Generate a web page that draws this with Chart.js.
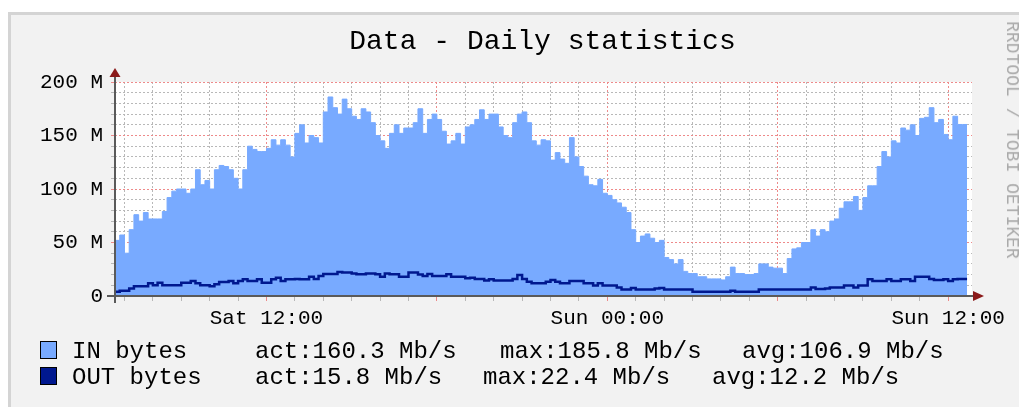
<!DOCTYPE html>
<html>
<head>
<meta charset="utf-8">
<script src="https://cdn.jsdelivr.net/npm/chart.js@4.4.1/dist/chart.umd.min.js"></script>
<style>
    html, body { margin: 0; padding: 0; background: #ffffff; }
    #wrap { position: relative; width: 1019px; height: 407px; overflow: hidden; }
    #frame {
        position: absolute; left: 8px; top: 12px; right: 0; bottom: 0;
        background: #f2f2f2;
        border-left: 3px solid #d4d4d4;
        border-top: 3px solid #d4d4d4;
    }
    #chart { position: absolute; left: 0; top: 0; }
    .txt {
        position: absolute; font-family: 'Liberation Mono', 'DejaVu Sans Mono', monospace;
        color: #000; white-space: pre;
    }
    #title { left: 0; width: 1085px; top: 28px; font-size: 28px; line-height: 28px; text-align: center; }
    .leg { font-size: 24px; line-height: 24px; }
    .box { position: absolute; width: 15px; height: 16px; border: 1px solid #000; }
    #credit {
        left: 1012px; top: 140px; font-size: 18px; line-height: 18px; color: #aaaaaa;
        transform: translate(-50%, -50%) rotate(90deg);
    }
</style>
</head>
<body>
<div id="wrap">
    <div id="frame"></div>
    <canvas id="chart" width="1019" height="407"></canvas>
    <div class="txt" id="title">Data - Daily statistics</div>
    <div class="txt" id="credit">RRDTOOL / TOBI OETIKER</div>
    <div id="legend"></div>
</div>
<script>
// ============ Data ============

// 10 minute samples starting Sat 06:40 (hours counted from Sat 00:00)
const START_HOUR = 6 + 40 / 60;
const STEP_HOURS = 1 / 6;
const END_HOUR = 36.84;

// IN bytes, M per sample
const IN_BYTES = [
    40, 52, 57, 40, 62, 76, 70, 78, 72, 72, 72, 79, 92, 98, 100, 100, 96, 100, 118, 104, 108, 100, 118, 122, 121, 118, 110, 100, 118, 140,
    137, 135, 135, 138, 146, 141, 146, 141, 130, 152, 160, 143, 150, 148, 143, 172, 186, 176, 170, 184, 175, 168, 165, 175, 172, 162, 150, 145, 138, 152,
    160, 152, 157, 157, 162, 175, 152, 165, 170, 165, 154, 142, 145, 152, 142, 158, 160, 165, 174, 165, 170, 170, 158, 150, 148, 162, 170, 172, 162, 145,
    141, 146, 145, 127, 134, 128, 124, 148, 130, 121, 112, 104, 103, 109, 96, 94, 90, 87, 83, 78, 62, 50, 56, 58, 54, 50, 52, 36, 34, 30, 34,
    23, 21, 21, 18, 18, 16, 16, 16, 15, 18, 27, 21, 21, 20, 20, 21, 30, 30, 27, 26, 26, 21, 35, 44, 45, 50, 50, 62, 56, 62,
    60, 70, 72, 82, 88, 88, 93, 80, 92, 103, 103, 121, 135, 130, 145, 143, 157, 155, 160, 150, 166, 167, 176, 162, 165, 151, 146, 168, 160.3
];

// OUT bytes, M per sample
const OUT_BYTES = [
    4, 4, 5, 5, 7, 9, 9, 9, 12, 10, 12.5, 10, 10, 10, 10, 12.5, 12.5, 14, 12, 10, 10, 9, 11, 13, 13, 14, 12, 14, 15.6, 14,
    14, 15.6, 12.5, 12.5, 15.6, 17, 14, 15.6, 15.6, 16, 15.6, 15.6, 18, 16, 18.7, 20.6, 20.6, 20.6, 22.4, 22, 22, 21, 20.3, 20.3, 21, 21, 20.3, 18, 21, 20.3,
    20.3, 18, 18, 22, 22, 20, 18.7, 20.6, 18.7, 18.7, 18.7, 20.3, 18, 18, 18, 16.5, 17, 16, 16, 14.4, 15.6, 14.4, 14.4, 14.4, 14.4, 16, 19.7, 16, 13.4, 12,
    12, 12, 13.4, 15, 13.4, 12, 12, 14, 14, 14, 12, 12, 9.7, 12, 9.7, 9.7, 9.7, 8, 6, 6, 7.5, 6, 6, 6, 6, 7, 7.5, 6, 6, 6, 6,
    6, 6, 4, 4, 4, 4, 4, 4, 4, 4, 5, 4, 4, 4, 4, 4, 6, 6, 6, 6, 6, 6, 6, 6, 6, 6, 6, 8, 6.5, 6.5,
    7, 8, 8, 8, 9.7, 9.7, 8, 9.7, 9.7, 15.6, 14, 14, 14, 15.6, 14, 14, 15.6, 15.6, 14, 18, 18, 18, 16, 15, 15, 15.6, 14, 15.6, 15.8
];

const Y_TICK_VALUES = [0, 50, 100, 150, 200];
const Y_TICK_LABELS = ['0', '50 M', '100 M', '150 M', '200 M'];
const X_TICK_HOURS = [12, 24, 36];
const X_TICK_LABELS = ['Sat 12:00', 'Sun 00:00', 'Sun 12:00'];

const LEGEND_ROWS = [
    { name: 'IN bytes', color: '#78aaff', act: 'act:160.3 Mb/s', max: 'max:185.8 Mb/s', avg: 'avg:106.9 Mb/s', maxX: 500, avgX: 742 },
    { name: 'OUT bytes', color: '#00188f', act: 'act:15.8 Mb/s', max: 'max:22.4 Mb/s', avg: 'avg:12.2 Mb/s', maxX: 483, avgX: 712 }
];

// ============ Helpers ============

const FONT = 'Liberation Mono';
const RED_GRID = '#ee8a8a';
const GRAY_GRID = '#b8b8b8';

function toPoints(values) {
    const pts = values.map((v, i) => ({ x: START_HOUR + i * STEP_HOURS, y: v }));
    // close the last step
    pts.push({ x: START_HOUR + values.length * STEP_HOURS, y: values[values.length - 1] });
    return pts;
}

// one tick per whole hour / per 10 M
function hourTicks(scale) {
    const ticks = [];
    for (let h = Math.ceil(scale.min); h <= Math.floor(scale.max); h++) ticks.push({ value: h });
    scale.ticks = ticks;
}

function tenMTicks(scale) {
    const ticks = [];
    for (let v = 0; v <= 200; v += 10) ticks.push({ value: v });
    scale.ticks = ticks;
}

// ============ Legend ============

function renderLegend() {
    const el = document.getElementById('legend');
    el.innerHTML = LEGEND_ROWS.map((r, i) => {
        const top = 340 + i * 26;
        return `
        <div class="box" style="left:40px; top:${top + 1}px; background:${r.color}"></div>
        <div class="txt leg" style="left:72px; top:${top}px">${r.name}</div>
        <div class="txt leg" style="left:255px; top:${top}px">${r.act}</div>
        <div class="txt leg" style="left:${r.maxX}px; top:${top}px">${r.max}</div>
        <div class="txt leg" style="left:${r.avgX}px; top:${top}px">${r.avg}</div>`;
    }).join('');
}

// ============ Chart ============

const plotBackground = {
    id: 'plotBackground',
    beforeDraw(chart) {
        const { ctx, chartArea: a } = chart;
        ctx.save();
        ctx.fillStyle = '#ffffff';
        ctx.fillRect(a.left, a.top, a.right - a.left, a.bottom - a.top);
        ctx.restore();
    }
};

const axisArrows = {
    id: 'axisArrows',
    afterDraw(chart) {
        const { ctx, chartArea: a } = chart;
        const x0 = Math.round(chart.scales.x.getPixelForValue(START_HOUR));
        const y0 = Math.round(chart.scales.y.getPixelForValue(0));
        ctx.save();
        ctx.strokeStyle = '#5a5a5a';
        ctx.lineWidth = 2;
        ctx.beginPath();
        ctx.moveTo(x0, y0 + 7);
        ctx.lineTo(x0, a.top - 10);
        ctx.moveTo(x0 - 8, y0);
        ctx.lineTo(a.right + 2, y0);
        ctx.stroke();

        ctx.fillStyle = '#8b1a1a';
        ctx.beginPath();
        ctx.moveTo(x0 - 5.5, a.top - 5);
        ctx.lineTo(x0 + 5.5, a.top - 5);
        ctx.lineTo(x0, a.top - 14);
        ctx.closePath();
        ctx.fill();
        ctx.beginPath();
        ctx.moveTo(a.right + 1, y0 - 5);
        ctx.lineTo(a.right + 1, y0 + 5);
        ctx.lineTo(a.right + 12, y0);
        ctx.closePath();
        ctx.fill();
        ctx.restore();
    }
};

function renderChart() {
    const ctx = document.getElementById('chart').getContext('2d');
    new Chart(ctx, {
        type: 'line',
        data: {
            datasets: [
                {
                    label: 'IN bytes',
                    data: toPoints(IN_BYTES),
                    stepped: 'after',
                    fill: 'origin',
                    backgroundColor: '#78aaff',
                    borderColor: '#78aaff',
                    borderWidth: 1,
                    pointRadius: 0,
                    order: 2
                },
                {
                    label: 'OUT bytes',
                    data: toPoints(OUT_BYTES),
                    stepped: 'after',
                    fill: false,
                    borderColor: '#00188f',
                    borderWidth: 2.5,
                    pointRadius: 0,
                    order: 1
                }
            ]
        },
        options: {
            responsive: false,
            animation: false,
            devicePixelRatio: 1,
            layout: { padding: { left: 0, top: 82, right: 47, bottom: 0 } },
            plugins: {
                legend: { display: false },
                tooltip: { enabled: false }
            },
            scales: {
                x: {
                    type: 'linear',
                    min: START_HOUR,
                    max: END_HOUR,
                    z: 1,
                    afterBuildTicks: hourTicks,
                    afterFit: (scale) => { scale.height = 111; },
                    border: { display: false, dash: [2, 2] },
                    grid: {
                        color: (c) => {
                            const v = c.tick ? c.tick.value : 0;
                            return v % 6 === 0 ? RED_GRID : GRAY_GRID;
                        },
                        tickLength: 5
                    },
                    ticks: {
                        autoSkip: false,
                        maxRotation: 0,
                        minRotation: 0,
                        padding: 5,
                        color: '#000',
                        font: { family: FONT, size: 21 },
                        callback: (v) => {
                            const i = X_TICK_HOURS.indexOf(v);
                            return i >= 0 ? X_TICK_LABELS[i] : '';
                        }
                    }
                },
                y: {
                    min: 0,
                    max: 200,
                    z: 1,
                    afterBuildTicks: tenMTicks,
                    afterFit: (scale) => { scale.width = 115; },
                    border: { display: false, dash: [2, 2] },
                    grid: {
                        color: (c) => {
                            const v = c.tick ? c.tick.value : 0;
                            return v % 50 === 0 ? RED_GRID : GRAY_GRID;
                        },
                        tickLength: 4
                    },
                    ticks: {
                        autoSkip: false,
                        padding: 8,
                        color: '#000',
                        font: { family: FONT, size: 21 },
                        callback: (v) => {
                            const i = Y_TICK_VALUES.indexOf(v);
                            return i >= 0 ? Y_TICK_LABELS[i] : '';
                        }
                    }
                }
            }
        },
        plugins: [plotBackground, axisArrows]
    });
}

renderLegend();
renderChart();
</script>
</body>
</html>
